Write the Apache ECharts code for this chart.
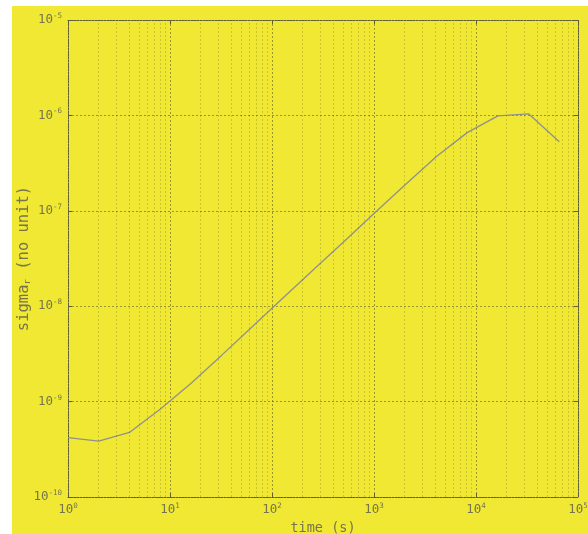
<!DOCTYPE html>
<html lang="en">
<head>
    <meta charset="UTF-8">
    <title>sigma vs time</title>
    <script src="https://cdn.jsdelivr.net/npm/echarts@6/dist/echarts.min.js"></script>
    <style>
        html, body { margin: 0; padding: 0; background: #fff; }
        #container {
            position: absolute;
            left: 12px;
            top: 6px;
            width: 576px;
            height: 528px;
            background: #f0e832;
        }
    </style>
</head>
<body>
<div id="container"></div>
<script>
    // time (s), doubling steps
    var times = [1, 2, 4, 8, 16, 32, 64, 128, 256, 512, 1024, 2048, 4096, 8192, 16384, 32768, 65536];
    var sigma = [4.2e-10, 3.85e-10, 4.75e-10, 8.3e-10, 1.55e-9, 3.05e-9, 6.1e-9, 1.22e-8, 2.42e-8,
                 4.8e-8, 9.6e-8, 1.9e-7, 3.7e-7, 6.6e-7, 9.9e-7, 1.04e-6, 5.3e-7];
    var xDecades = [0, 1, 2, 3, 4, 5];
    var yDecades = [-10, -9, -8, -7, -6, -5];

    // minor grid positions (2..9 in each decade)
    function minors(decs) {
        var out = [];
        for (var i = 0; i < decs.length - 1; i++) {
            for (var k = 2; k <= 9; k++) out.push(k * Math.pow(10, decs[i]));
        }
        return out;
    }
    var xMinor = minors(xDecades).map(function (v) { return { xAxis: v }; });
    var yMinor = minors(yDecades).map(function (v) { return { yAxis: v }; });

    var pts = times.map(function (t, i) { return [t, sigma[i]]; });

    var txt = '#75754c';
    var labelRich = {
        base: { fontFamily: 'DejaVu Sans Mono', fontSize: 12.5, color: txt },
        sup: { fontFamily: 'DejaVu Sans Mono', fontSize: 7.5, color: txt, verticalAlign: 'top', padding: [0, 0, 8, 0] }
    };
    function powLabel(v) {
        var e = Math.round(Math.log10(v));
        return '{base|10}{sup|' + e + '}';
    }

    var chart = echarts.init(document.getElementById('container'));
    var axisLine = { show: true, lineStyle: { color: '#5e5e3a', width: 1, type: [2, 1] } };
    var tick = { show: true, inside: true, length: 4, lineStyle: { color: '#5e5e3a' } };
    var major = { show: true, lineStyle: { color: 'rgba(70,70,30,0.5)', type: [2, 2], width: 1 } };

    var option = {
        animation: false,
        grid: { left: 56, top: 14, right: 10, bottom: 37, outerBoundsMode: 'none', containLabel: false },
        xAxis: [{
            type: 'log', logBase: 10, min: 1, max: 100000,
            name: 'time (s)', nameLocation: 'middle', nameGap: 24, nameMoveOverlap: false,
            nameTextStyle: { fontFamily: 'DejaVu Sans Mono', fontSize: 13.5, color: txt },
            axisLine: axisLine,
            axisTick: tick,
            axisLabel: { formatter: powLabel, rich: labelRich, margin: 5 },
            splitLine: major
        }, {
            type: 'log', logBase: 10, min: 1, max: 100000, position: 'top',
            axisLine: axisLine,
            axisTick: tick,
            axisLabel: { show: false },
            splitLine: { show: false }
        }],
        yAxis: [{
            type: 'log', logBase: 10, min: 1e-10, max: 1e-5,
            name: '{n|sigma}{s|r}{n| (no unit)}', nameLocation: 'middle', nameGap: 36, nameMoveOverlap: false,
            nameTextStyle: {
                rich: {
                    n: { fontFamily: 'DejaVu Sans Mono', fontSize: 15.5, color: txt },
                    s: { fontFamily: 'DejaVu Sans Mono', fontSize: 9, color: txt, verticalAlign: 'bottom', padding: [6, 0, 0, 0] }
                }
            },
            axisLine: axisLine,
            axisTick: tick,
            axisLabel: { formatter: powLabel, rich: labelRich, margin: 6 },
            splitLine: major
        }, {
            type: 'log', logBase: 10, min: 1e-10, max: 1e-5, position: 'right',
            axisLine: axisLine,
            axisTick: tick,
            axisLabel: { show: false },
            splitLine: { show: false }
        }],
        series: [{
            type: 'line',
            data: pts,
            showSymbol: false,
            lineStyle: { color: '#909090', width: 1.3 },
            markLine: {
                silent: true,
                symbol: 'none',
                label: { show: false },
                lineStyle: { color: 'rgba(70,70,30,0.22)', type: [2, 2], width: 1 },
                data: xMinor.concat(yMinor)
            }
        }]
    };
    chart.setOption(option);
</script>
</body>
</html>
